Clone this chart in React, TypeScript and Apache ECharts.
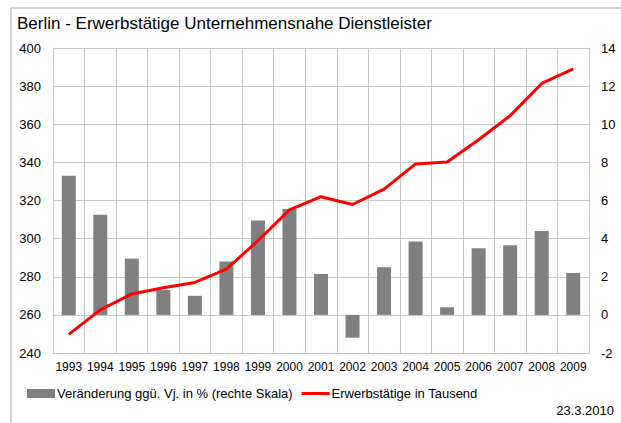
import React, { useEffect, useRef } from "react";
import * as echarts from "echarts";

const years = [
  "1993", "1994", "1995", "1996", "1997", "1998", "1999", "2000", "2001",
  "2002", "2003", "2004", "2005", "2006", "2007", "2008", "2009",
];

// Veränderung ggü. Vorjahr in % (rechte Skala)
const changePct = [
  7.3, 5.25, 2.95, 1.3, 1.0, 2.8, 4.95, 5.55, 2.15,
  -1.2, 2.5, 3.85, 0.4, 3.5, 3.65, 4.4, 2.2,
];

// Erwerbstätige in Tausend (linke Skala)
const employed = [
  249.8, 262.6, 271.0, 274.2, 277.0, 284.0, 298.9, 315.1, 322.0,
  317.9, 326.0, 339.2, 340.2, 351.9, 364.5, 381.4, 389.1,
];

const leftMin = 240;
const leftMax = 400;
const leftStep = 20;
const rightMin = -2;
const rightMax = 14;
const rightStep = 2;

const barName = "Veränderung ggü. Vj. in % (rechte Skala)";
const lineName = "Erwerbstätige in Tausend";
const titleText = "Berlin - Erwerbstätige Unternehmensnahe Dienstleister";
const dateText = "23.3.2010";

const FONT = "'Liberation Sans', Arial, sans-serif";
const GRID_COLOR = "#c8c8c8";

export default function App() {
  const ref = useRef<HTMLDivElement>(null);

  useEffect(() => {
    document.body.style.margin = "0";
    if (!ref.current) return;
    const chart = echarts.init(ref.current, undefined, { renderer: "svg" });
    chart.setOption({
      animation: false,
      backgroundColor: "#ffffff",
      textStyle: { fontFamily: FONT, color: "#000" },
      title: {
        text: titleText,
        left: 12,
        top: 10,
        textStyle: { fontFamily: FONT, fontSize: 17, fontWeight: "normal", color: "#000" },
      },
      graphic: [
        {
          type: "rect",
          shape: { x: 11, y: 8, width: 700, height: 600 },
          style: { fill: "none", stroke: GRID_COLOR, lineWidth: 1.5 },
          silent: true,
        },
        {
          type: "text",
          right: 7,
          top: 404,
          style: { text: dateText, font: `13px ${FONT}`, fill: "#000" },
        },
      ],
      legend: {
        left: 22,
        top: 382,
        itemWidth: 28,
        itemHeight: 9,
        itemGap: 9,
        textStyle: { fontFamily: FONT, fontSize: 13, color: "#000", padding: [0, 0, 0, -3] },
        data: [
          { name: barName, icon: "rect" },
          { name: lineName, icon: "path://M0,0H28V3H0Z" },
        ],
      },
      grid: { left: 53, right: 32, top: 48, bottom: 70, containLabel: false },
      xAxis: {
        type: "category",
        data: years,
        boundaryGap: true,
        axisLine: { show: true, lineStyle: { color: GRID_COLOR } },
        axisTick: { show: false },
        splitLine: { show: true, lineStyle: { color: GRID_COLOR } },
        axisLabel: { fontFamily: FONT, fontSize: 12, color: "#000", margin: 8, interval: 0 },
      },
      yAxis: [
        {
          type: "value",
          min: leftMin,
          max: leftMax,
          interval: leftStep,
          position: "left",
          axisLine: { show: true, lineStyle: { color: GRID_COLOR } },
          axisTick: { show: false },
          splitLine: { show: true, lineStyle: { color: GRID_COLOR } },
          axisLabel: { fontFamily: FONT, fontSize: 13, color: "#000", margin: 12 },
        },
        {
          type: "value",
          min: rightMin,
          max: rightMax,
          interval: rightStep,
          position: "right",
          axisLine: { show: true, lineStyle: { color: GRID_COLOR } },
          axisTick: { show: false },
          splitLine: { show: false },
          axisLabel: { fontFamily: FONT, fontSize: 13, color: "#000", margin: 12 },
        },
      ],
      series: [
        {
          name: barName,
          type: "bar",
          yAxisIndex: 1,
          data: changePct,
          barWidth: 14,
          itemStyle: { color: "#808080" },
        },
        {
          name: lineName,
          type: "line",
          yAxisIndex: 0,
          data: employed,
          symbol: "none",
          lineStyle: { color: "#ff0000", width: 3 },
          itemStyle: { color: "#ff0000" },
        },
      ],
    });
    return () => chart.dispose();
  }, []);

  return <div ref={ref} style={{ width: 621, height: 423 }} />;
}
